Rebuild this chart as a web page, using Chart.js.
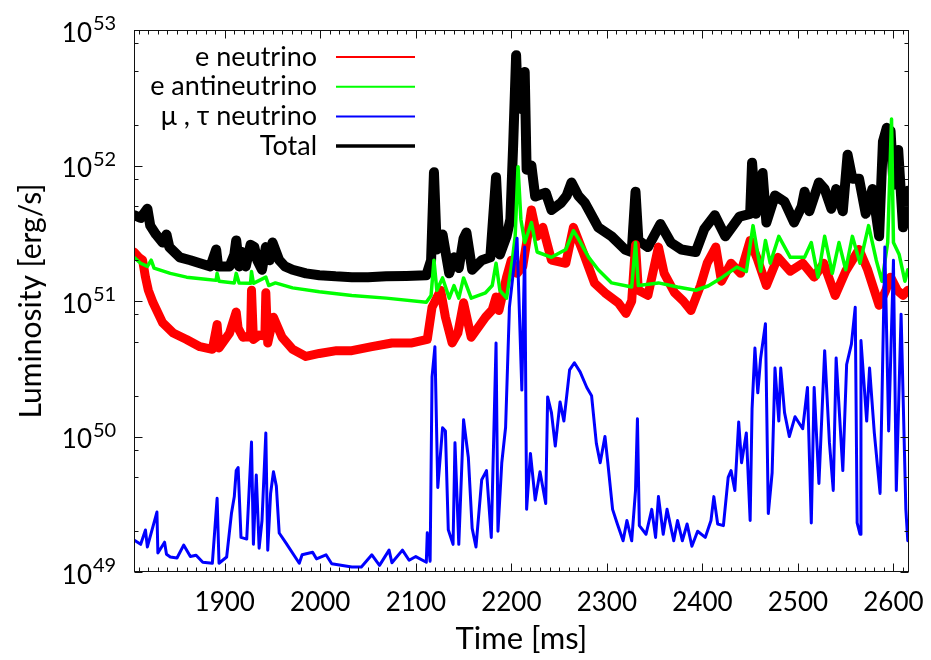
<!DOCTYPE html>
<html>
<head>
<meta charset="utf-8">
<script src="https://cdn.jsdelivr.net/npm/chart.js@4.4.1/dist/chart.umd.min.js"></script>
<style>
  html, body { margin: 0; padding: 0; background: #fff; }
</style>
</head>
<body>
<canvas id="lumChart" width="931" height="660"></canvas>
<script>
// axis ticks
const xMajorTicks = [1900, 2000, 2100, 2200, 2300, 2400, 2500, 2600]
const yDecades = [1e49, 1e50, 1e51, 1e52, 1e53]
const yMinorMult = [2, 5, 8]

// e neutrino
const eNuT = [1805, 1810, 1814, 1817, 1820, 1825, 1835, 1846, 1860, 1874, 1887, 1892, 1894, 1905, 1912, 1914,
  1919, 1927, 1928, 1930, 1936, 1942, 1943, 1945, 1951, 1960, 1971, 1985, 1999, 2017, 2033, 2054, 2075, 2096,
  2112, 2117, 2126, 2131, 2138, 2144, 2150, 2154, 2158, 2173, 2180, 2184, 2187, 2195, 2200, 2206, 2212, 2217,
  2221, 2227, 2233, 2242, 2257, 2265, 2275, 2287, 2298, 2312, 2320, 2326, 2330, 2333, 2343, 2354, 2360, 2371,
  2380, 2388, 2398, 2405, 2414, 2420, 2430, 2440, 2450, 2458, 2467, 2479, 2492, 2505, 2517, 2527, 2539, 2550,
  2564, 2573, 2585, 2592, 2597, 2604, 2610, 2615]
const eNuL = [2.3e51, 2.1e51, 2.0e51, 1.5e51, 1.2e51, 9.7e50, 6.9e50, 5.8e50, 5.2e50, 4.6e50, 4.4e50, 6.7e50, 4.5e50, 5.8e50, 8.3e50, 6.3e50,
  5.4e50, 5.5e50, 1.2e51, 5.2e50, 5.6e50, 5.5e50, 1.15e51, 4.9e50, 7.6e50, 5.4e50, 4.4e50, 3.9e50, 4.1e50, 4.3e50, 4.3e50, 4.6e50, 4.9e50, 4.9e50,
  5.2e50, 9.0e50, 1.2e51, 7.6e50, 4.9e50, 5.8e50, 9.7e50, 7.2e50, 5.4e50, 7.6e50, 8.6e50, 1.07e51, 8.5e50, 1.5e51, 2.0e51, 1.6e51, 1.8e51, 3.0e51,
  4.7e51, 3.0e51, 3.5e51, 2.0e51, 1.9e51, 3.5e51, 2.3e51, 1.36e51, 1.15e51, 9.7e50, 8.1e50, 1.0e51, 2.6e51, 1.2e51, 1.1e51, 2.5e51, 1.6e51, 1.15e51,
  1.0e51, 8.5e50, 1.3e51, 1.9e51, 2.5e51, 1.4e51, 1.9e51, 1.6e51, 2.8e51, 2.0e51, 1.3e51, 2.1e51, 1.66e51, 1.9e51, 1.5e51, 1.9e51, 1.1e51, 1.66e51,
  2.4e51, 1.7e51, 9.3e50, 1.2e51, 1.5e51, 1.2e51, 1.1e51, 1.2e51]

// e antineutrino
const eAntiT = [1805, 1812, 1819, 1823, 1826, 1843, 1860, 1880, 1891, 1892, 1894, 1910, 1912, 1915, 1927, 1928,
  1930, 1943, 1946, 1953, 1971, 1999, 2033, 2069, 2111, 2116, 2119, 2122, 2128, 2135, 2140, 2145, 2150, 2158,
  2173, 2180, 2184, 2188, 2195, 2201, 2204, 2207, 2210, 2214, 2221, 2227, 2242, 2257, 2265, 2270, 2281, 2291,
  2305, 2326, 2330, 2333, 2354, 2374, 2393, 2406, 2421, 2436, 2446, 2453, 2456, 2461, 2466, 2471, 2480, 2492,
  2507, 2514, 2521, 2528, 2536, 2543, 2550, 2557, 2565, 2574, 2582, 2588, 2594, 2598, 2600, 2606, 2612, 2615]
const eAntiL = [2.1e51, 1.9e51, 1.8e51, 2.0e51, 1.75e51, 1.6e51, 1.5e51, 1.45e51, 1.42e51, 1.6e51, 1.4e51, 1.36e51, 1.6e51, 1.36e51, 1.35e51, 1.65e51,
  1.35e51, 1.5e51, 1.3e51, 1.36e51, 1.25e51, 1.17e51, 1.1e51, 1.05e51, 9.8e50, 1.1e51, 2.0e51, 1.2e51, 1.48e51, 1.05e51, 1.3e51, 1.05e51, 1.48e51, 1.05e51,
  1.15e51, 1.3e51, 1.9e51, 1.2e51, 1.05e51, 2.0e51, 3.0e51, 9.8e51, 4.0e51, 2.7e51, 3.8e51, 2.3e51, 2.1e51, 2.4e51, 3.3e51, 2.9e51, 2.1e51, 1.7e51,
  1.36e51, 1.27e51, 2.7e51, 1.3e51, 1.36e51, 1.27e51, 1.2e51, 1.29e51, 1.5e51, 1.78e51, 1.65e51, 3.6e51, 2.7e51, 1.66e51, 2.8e51, 1.9e51, 3.0e51, 2.1e51,
  2.1e51, 2.7e51, 1.5e51, 3.0e51, 1.6e51, 2.7e51, 1.7e51, 3.0e51, 1.9e51, 3.6e51, 2.0e51, 1.4e51, 2.7e51, 2.2e52, 2.7e51, 2.2e51, 1.4e51, 1.7e51]

// mu, tau neutrino
const muTauT = [1805, 1812, 1817, 1819, 1829, 1830, 1837, 1839, 1843, 1850, 1857, 1864, 1870, 1877, 1887, 1892,
  1894, 1902, 1907, 1910, 1912, 1914, 1917, 1923, 1928, 1930, 1933, 1936, 1939, 1943, 1945, 1948, 1951, 1954,
  1957, 1964, 1978, 1981, 1992, 1996, 2006, 2012, 2033, 2043, 2054, 2062, 2072, 2075, 2086, 2093, 2100, 2111,
  2112, 2115, 2117, 2120, 2123, 2128, 2131, 2134, 2139, 2141, 2145, 2150, 2155, 2159, 2163, 2169, 2174, 2179,
  2184, 2186, 2190, 2194, 2198, 2206, 2211, 2214, 2216, 2220, 2225, 2230, 2236, 2238, 2242, 2246, 2251, 2255,
  2261, 2266, 2272, 2279, 2284, 2289, 2293, 2298, 2301, 2306, 2311, 2317, 2321, 2326, 2330, 2332, 2334, 2341,
  2347, 2351, 2354, 2359, 2363, 2370, 2374, 2379, 2384, 2389, 2395, 2403, 2409, 2412, 2416, 2422, 2427, 2430,
  2434, 2438, 2441, 2446, 2450, 2452, 2455, 2458, 2461, 2466, 2469, 2473, 2476, 2480, 2482, 2486, 2491, 2497,
  2505, 2510, 2514, 2517, 2522, 2528, 2533, 2537, 2540, 2547, 2551, 2556, 2560, 2562, 2565, 2566, 2572, 2575,
  2580, 2586, 2588, 2591, 2595, 2600, 2603, 2608, 2613, 2615]
const muTauL = [1.72e49, 1.6e49, 2.04e49, 1.53e49, 2.77e49, 1.38e49, 1.66e49, 1.35e49, 1.29e49, 1.27e49, 1.58e49, 1.3e49, 1.33e49, 1.18e49, 1.16e49, 3.5e49,
  1.16e49, 1.29e49, 2.7e49, 3.6e49, 5.6e49, 5.9e49, 1.8e49, 1.75e49, 9.1e49, 1.6e49, 5.2e49, 1.5e49, 2.4e49, 1.06e50, 1.45e49, 3.8e49, 5.5e49, 4.3e49,
  1.94e49, 1.64e49, 1.16e49, 1.34e49, 1.4e49, 1.25e49, 1.34e49, 1.15e49, 1.09e49, 1.09e49, 1.34e49, 1.12e49, 1.45e49, 1.17e49, 1.45e49, 1.22e49, 1.3e49, 1.18e49,
  1.95e49, 1.2e49, 2.75e50, 4.6e50, 4.2e49, 1.16e50, 1.1e50, 2.05e49, 1.6e49, 9e49, 1.6e49, 1.33e50, 7.0e49, 2.1e49, 1.53e49, 4.8e49, 5.6e49, 1.8e49,
  4.9e50, 2.0e49, 6.4e49, 1.17e50, 9e50, 2.9e51, 2.2e50, 2.5e51, 2.9e49, 7.5e49, 3.4e49, 5.5e49, 3.2e49, 1.96e50, 1.5e50, 8.5e49, 1.8e50, 1.3e50,
  3.1e50, 3.5e50, 3.0e50, 2.3e50, 2.0e50, 8.9e49, 6.4e49, 1.0e50, 6.4e49, 2.9e49, 2.26e49, 1.7e49, 2.4e49, 1.7e49, 4.0e49, 1.35e50, 2.2e49, 1.9e49,
  2.9e49, 1.8e49, 3.6e49, 1.9e49, 2.9e49, 1.7e49, 2.4e49, 1.7e49, 2.26e49, 1.55e49, 2.0e49, 1.8e49, 2.4e49, 3.6e49, 2.26e49, 2.2e49, 5.0e49, 5.6e49,
  4.0e49, 1.28e50, 6.4e49, 1.06e50, 2.4e49, 1.6e50, 4.5e50, 2.1e50, 3.8e50, 6.8e50, 2.7e49, 5.4e49, 3.2e50, 1.3e50, 3.2e50, 1.5e50, 1.0e50, 1.4e50,
  1.14e50, 2.3e50, 2.3e49, 2.3e50, 4.5e49, 4.3e50, 9e49, 4.0e49, 3.8e50, 5.6e49, 3.4e50, 4.8e50, 9e50, 2.3e49, 1.9e49, 5.1e50, 1.3e50, 3.2e50,
  1.06e50, 3.8e49, 1.9e50, 2.5e51, 1.1e50, 2.0e51, 4.0e49, 8e50, 2.9e49, 1.7e49]

// total
const totalT = [1805, 1812, 1819, 1822, 1828, 1835, 1839, 1842, 1853, 1864, 1874, 1885, 1891, 1893, 1905, 1910,
  1912, 1915, 1918, 1922, 1927, 1931, 1934, 1939, 1943, 1947, 1950, 1957, 1963, 1971, 1985, 1999, 2016, 2033,
  2050, 2069, 2090, 2111, 2116, 2119, 2122, 2128, 2135, 2140, 2145, 2150, 2153, 2159, 2169, 2178, 2184, 2188,
  2195, 2199, 2202, 2205, 2207, 2211, 2214, 2216, 2221, 2225, 2236, 2242, 2252, 2258, 2263, 2270, 2277, 2291,
  2305, 2319, 2326, 2330, 2333, 2343, 2356, 2367, 2378, 2393, 2402, 2413, 2424, 2439, 2450, 2452, 2456, 2463,
  2467, 2476, 2486, 2496, 2504, 2507, 2512, 2522, 2528, 2535, 2540, 2547, 2552, 2557, 2564, 2571, 2578, 2585,
  2589, 2593, 2597, 2600, 2605, 2610, 2615]
const totalL = [4.3e51, 4.1e51, 4.8e51, 3.6e51, 3.1e51, 2.7e51, 3.1e51, 2.5e51, 2.1e51, 2.0e51, 1.9e51, 1.8e51, 2.4e51, 1.8e51, 1.8e51, 2.2e51,
  2.8e51, 1.8e51, 2.3e51, 1.8e51, 2.6e51, 2.5e51, 2.0e51, 1.7e51, 2.5e51, 2.0e51, 2.7e51, 2.0e51, 1.8e51, 1.7e51, 1.6e51, 1.55e51, 1.52e51, 1.5e51,
  1.5e51, 1.52e51, 1.53e51, 1.55e51, 2.0e51, 8.9e51, 2.4e51, 3.1e51, 1.6e51, 2.1e51, 1.75e51, 2.9e51, 3.2e51, 1.7e51, 2.0e51, 2.1e51, 8.2e51, 2.2e51,
  3.0e51, 4.0e51, 1.47e52, 6.5e52, 2.7e52, 2.6e52, 4.9e52, 9.3e51, 1.0e52, 5.9e51, 6.3e51, 4.7e51, 5.3e51, 6.0e51, 7.5e51, 6.0e51, 5.3e51, 3.5e51,
  3.0e51, 2.4e51, 2.3e51, 6.4e51, 2.8e51, 2.5e51, 3.7e51, 2.7e51, 2.4e51, 2.3e51, 3.4e51, 4.3e51, 3.0e51, 4.2e51, 4.4e51, 1.05e52, 4.4e51, 8.8e51,
  3.8e51, 6.0e51, 5.4e51, 3.8e51, 5.0e51, 6.4e51, 4.6e51, 7.5e51, 6.7e51, 4.8e51, 6.7e51, 4.6e51, 1.2e52, 8.0e51, 8.0e51, 4.4e51, 6.7e51, 3.0e51,
  1.5e52, 1.9e52, 1.8e52, 7.2e51, 1.3e52, 3.5e51, 6.5e51]

const seriesNames = ['e neutrino', 'e antineutrino', '\u03bc , \u03c4 neutrino', 'Total']
const seriesColors = ['#ff0000', '#00ff00', '#0000ff', '#000000']

const toPoints = (ts, ls) => ts.map((t, i) => ({ x: t, y: ls[i] }))

//--FRAME WITH INWARD TICKS, Y LABELS WITH EXPONENTS, LEGEND
const gnuFrame = {
    id: 'gnuFrame',
    afterDraw(chart) {
        const { ctx, chartArea: a, scales: { x, y } } = chart
        const L = Math.round(a.left) + 0.5, R = Math.round(a.right) - 0.5
        const T = Math.round(a.top) + 0.5, B = Math.round(a.bottom) - 0.5
        ctx.save()
        ctx.strokeStyle = '#111'
        ctx.lineWidth = 1
        ctx.strokeRect(L, T, R - L, B - T)
        ctx.beginPath()
        for (let t = Math.ceil(x.min / 10) * 10; t <= x.max; t += 10) {
            const px = Math.round(x.getPixelForValue(t)) + 0.5
            const len = xMajorTicks.includes(t) ? 8 : 4
            ctx.moveTo(px, B); ctx.lineTo(px, B - len)
            ctx.moveTo(px, T); ctx.lineTo(px, T + len)
        }
        yDecades.forEach((d) => {
            [1, ...yMinorMult].forEach((m) => {
                const v = d * m
                if (v > y.max * 1.001) return
                const py = Math.round(y.getPixelForValue(v)) + 0.5
                const len = m === 1 ? 8 : 4
                ctx.moveTo(L, py); ctx.lineTo(L + len, py)
                ctx.moveTo(R, py); ctx.lineTo(R - len, py)
            })
        })
        ctx.stroke()

        // y labels: 10 with superscript exponent
        ctx.fillStyle = '#000'
        ctx.textBaseline = 'alphabetic'
        yDecades.forEach((d) => {
            const py = y.getPixelForValue(d)
            const ex = String(Math.round(Math.log10(d)))
            ctx.font = '26px Lato'
            ctx.textAlign = 'right'
            ctx.fillText('10', 92, py + 11.5)
            ctx.font = '20px Lato'
            ctx.textAlign = 'left'
            ctx.fillText(ex, 93, py)
        })

        // legend
        ctx.font = '27px Lato'
        ctx.textAlign = 'right'
        ctx.textBaseline = 'middle'
        chart.data.datasets.forEach((ds, i) => {
            const ly = 57 + i * 29.7
            ctx.fillStyle = '#000'
            ctx.fillText(ds.label, 317, ly)
            ctx.strokeStyle = ds.borderColor
            ctx.lineWidth = i === 3 ? 3.5 : 2
            ctx.beginPath()
            ctx.moveTo(336, ly); ctx.lineTo(415, ly)
            ctx.stroke()
        })
        ctx.restore()
    }
}

const datasets = [
    { label: seriesNames[0], data: toPoints(eNuT, eNuL), borderColor: seriesColors[0], borderWidth: 9, order: 2 },
    { label: seriesNames[1], data: toPoints(eAntiT, eAntiL), borderColor: seriesColors[1], borderWidth: 3.5, order: 1 },
    { label: seriesNames[2], data: toPoints(muTauT, muTauL), borderColor: seriesColors[2], borderWidth: 3, order: 0 },
    { label: seriesNames[3], data: toPoints(totalT, totalL), borderColor: seriesColors[3], borderWidth: 10, order: 3 },
].map((ds) => ({ ...ds, pointRadius: 0, tension: 0, fill: false, borderJoinStyle: 'round', borderCapStyle: 'round' }))

const lumChart = new Chart(document.getElementById('lumChart'), {
    type: 'line',
    data: { datasets },
    options: {
        animation: false,
        responsive: false,
        devicePixelRatio: 1,
        layout: { padding: { top: 30, right: 20, left: 0, bottom: 0 } },
        plugins: { legend: { display: false }, tooltip: { enabled: false } },
        scales: {
            x: {
                type: 'linear',
                min: 1805,
                max: 2616,
                afterBuildTicks: (sc) => { sc.ticks = xMajorTicks.map((v) => ({ value: v })) },
                afterFit: (sc) => { sc.height = 88 },
                grid: { display: false },
                border: { display: false },
                ticks: { color: '#000', font: { family: 'Lato', size: 26 }, padding: 7, maxRotation: 0, callback: (v) => String(v) },
                title: { display: true, text: 'Time [ms]', color: '#000', font: { family: 'Lato', size: 31 }, padding: { top: 0, bottom: 2 } }
            },
            y: {
                type: 'logarithmic',
                min: 1e49,
                max: 1e53,
                afterBuildTicks: (sc) => { sc.ticks = yDecades.map((v) => ({ value: v })) },
                afterFit: (sc) => { sc.width = 134 },
                grid: { display: false },
                border: { display: false },
                ticks: { display: false },
                title: { display: true, text: 'Luminosity [erg/s]', color: '#000', font: { family: 'Lato', size: 30 }, padding: { top: 13, bottom: 0 } }
            }
        }
    },
    plugins: [gnuFrame]
})
</script>
</body>
</html>
